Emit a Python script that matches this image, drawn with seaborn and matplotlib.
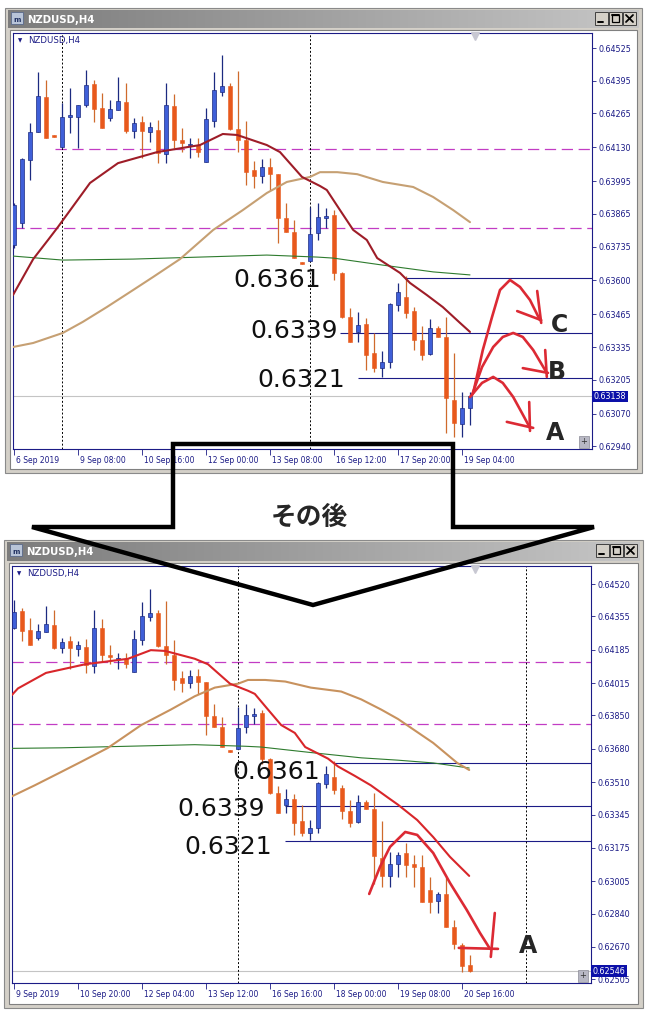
import numpy as np
import matplotlib
matplotlib.use("Agg")
import matplotlib.pyplot as plt
import matplotlib.transforms as mtransforms
from matplotlib.patches import Rectangle, Polygon
from matplotlib.colors import LinearSegmentedColormap
import seaborn as sns

sns.set_style("white")
plt.rcParams['font.family'] = ['DejaVu Sans', 'Noto Sans CJK JP']

# NZDUSD H4 candles, bar 0 = 6 Sep 2019 (upper chart shows 0-57, lower 9-66)
opens = [0.63741, 0.63829, 0.64079, 0.64191, 0.64330, 0.64179, 0.64131, 0.64250, 0.64250, 0.64298,
         0.64382, 0.64286, 0.64246, 0.64278, 0.64310, 0.64195, 0.64230, 0.64191, 0.64199, 0.64103,
         0.64294, 0.64159, 0.64139, 0.64139, 0.64071, 0.64234, 0.64350, 0.64374, 0.64203, 0.64159,
         0.64039, 0.64016, 0.64051, 0.64023, 0.63848, 0.63793, 0.63673, 0.63677, 0.63789, 0.63848,
         0.63860, 0.63630, 0.63454, 0.63395, 0.63426, 0.63311, 0.63251, 0.63275, 0.63502, 0.63534,
         0.63478, 0.63363, 0.63307, 0.63411, 0.63375, 0.63124, 0.63029, 0.63092, 0.63150, 0.63093,
         0.63078, 0.62960, 0.62904, 0.62940, 0.62772, 0.62680, 0.62578]
highs = [0.63908, 0.64087, 0.64226, 0.64429, 0.64398, 0.64179, 0.64306, 0.64366, 0.64298, 0.64437,
         0.64398, 0.64346, 0.64318, 0.64410, 0.64386, 0.64246, 0.64254, 0.64230, 0.64238, 0.64386,
         0.64342, 0.64207, 0.64167, 0.64167, 0.64286, 0.64429, 0.64497, 0.64386, 0.64433, 0.64234,
         0.64075, 0.64083, 0.64087, 0.64023, 0.63908, 0.63840, 0.63673, 0.63892, 0.63908, 0.63888,
         0.63880, 0.63634, 0.63490, 0.63474, 0.63450, 0.63391, 0.63319, 0.63510, 0.63590, 0.63618,
         0.63494, 0.63419, 0.63446, 0.63419, 0.63454, 0.63311, 0.63156, 0.63156, 0.63200, 0.63139,
         0.63139, 0.63027, 0.62950, 0.63027, 0.62807, 0.62690, 0.62629]
lows = [0.63729, 0.63809, 0.64000, 0.64191, 0.64167, 0.64171, 0.64127, 0.64187, 0.64127, 0.64290,
        0.64230, 0.64207, 0.64234, 0.64278, 0.64187, 0.64167, 0.64087, 0.64151, 0.64067, 0.64067,
        0.64127, 0.64111, 0.64087, 0.64091, 0.64071, 0.64211, 0.64334, 0.64199, 0.64111, 0.63980,
        0.63968, 0.63988, 0.63960, 0.63749, 0.63793, 0.63689, 0.63665, 0.63677, 0.63761, 0.63809,
        0.63602, 0.63450, 0.63355, 0.63355, 0.63243, 0.63236, 0.63216, 0.63251, 0.63478, 0.63450,
        0.63323, 0.63283, 0.63303, 0.63375, 0.62993, 0.62977, 0.62977, 0.63025, 0.63027, 0.62976,
        0.62899, 0.62843, 0.62843, 0.62772, 0.62660, 0.62542, 0.62542]
closes = [0.63900, 0.64083, 0.64191, 0.64334, 0.64167, 0.64171, 0.64250, 0.64258, 0.64298, 0.64378,
          0.64282, 0.64207, 0.64282, 0.64314, 0.64195, 0.64226, 0.64195, 0.64211, 0.64107, 0.64298,
          0.64159, 0.64147, 0.64143, 0.64111, 0.64242, 0.64358, 0.64374, 0.64203, 0.64159, 0.64031,
          0.64016, 0.64051, 0.64023, 0.63848, 0.63793, 0.63689, 0.63665, 0.63785, 0.63852, 0.63856,
          0.63630, 0.63454, 0.63355, 0.63423, 0.63303, 0.63251, 0.63275, 0.63506, 0.63554, 0.63470,
          0.63363, 0.63303, 0.63411, 0.63375, 0.63132, 0.63033, 0.63092, 0.63138, 0.63088, 0.63078,
          0.62899, 0.62899, 0.62940, 0.62772, 0.62685, 0.62573, 0.62546]

# moving averages (bar, price)
red_ma_bar = [-0.125, 2.4, 4.25, 5.5, 9.5, 13, 17.9, 23.25, 26.1, 27.9, 31.6, 33.25, 36, 38.25,
              39.1, 40.75, 42.4, 44.1, 45.4, 48.25, 49.5, 51.6, 53.6, 55.75, 57, 59.4, 61.4, 63.5, 65.9]
red_ma = [0.63542, 0.63685, 0.63761, 0.63813, 0.63988, 0.64067, 0.64111, 0.64139, 0.64183, 0.64179,
          0.64139, 0.64111, 0.64012, 0.63976, 0.63960, 0.63880, 0.63801, 0.63761, 0.63689, 0.63630,
          0.63590, 0.63542, 0.63494, 0.63431, 0.63395, 0.63317, 0.63230, 0.63129, 0.63032]
tan_ma_bar = [-0.125, 2.4, 6.1, 8.6, 11.6, 14.9, 17.4, 20.75, 24.9, 28.6, 31.6, 34.1, 37, 38.25,
              40.4, 42.9, 46.1, 49.9, 52.4, 54.9, 57, 61.4, 64.4, 65.9]
tan_ma = [0.63335, 0.63351, 0.63391, 0.63435, 0.63494, 0.63562, 0.63614, 0.63685, 0.63801, 0.63880,
          0.63948, 0.63992, 0.64012, 0.64031, 0.64031, 0.64023, 0.63992, 0.63972, 0.63932, 0.63880,
          0.63832, 0.63710, 0.63608, 0.63572]
green_ma_bar = [-0.125, 6.1, 14.9, 23.25, 31.6, 37.9, 39.9, 46.1, 52.4, 57, 61.4, 65.9]
green_ma = [0.63697, 0.63681, 0.63685, 0.63693, 0.63701, 0.63693, 0.63689, 0.63661, 0.63634,
            0.63622, 0.63608, 0.63582]

# horizontal levels
levels = [0.6361, 0.6339, 0.6321]
level_text = ['0.6361', '0.6339', '0.6321']
top_level_start = [49, 40.75, 43]
bot_level_start = [48.9, 42.9, 42.9]
top_text_bar = [32.9, 35.0, 35.9]
top_text_price = [0.63602, 0.63399, 0.63204]
bot_text_bar = [41.75, 34.9, 35.75]
bot_text_price = [0.63562, 0.63373, 0.63180]
magenta_levels = [0.64125, 0.63808]
top_magenta_start = [5.1, -0.125]

top_price = 0.63138
bot_price = 0.62546
top_last = 57

top_yticks = [0.64525, 0.64395, 0.64265, 0.64130, 0.63995, 0.63865, 0.63735, 0.63600,
              0.63465, 0.63335, 0.63205, 0.63070, 0.62940]
bot_yticks = [0.64520, 0.64355, 0.64185, 0.64015, 0.63850, 0.63680, 0.63510, 0.63345,
              0.63175, 0.63005, 0.62840, 0.62670, 0.62505]
top_time_bars = [0, 8, 16, 24, 32, 40, 48, 56]
top_time_labels = ['6 Sep 2019', '9 Sep 08:00', '10 Sep 16:00', '12 Sep 00:00',
                   '13 Sep 08:00', '16 Sep 12:00', '17 Sep 20:00', '19 Sep 04:00']
bot_time_bars = [9, 17, 25, 33, 41, 49, 57, 65]
bot_time_labels = ['9 Sep 2019', '10 Sep 20:00', '12 Sep 04:00', '13 Sep 12:00',
                   '16 Sep 16:00', '18 Sep 00:00', '19 Sep 08:00', '20 Sep 16:00']
top_vlines = [6, 37]
bot_vlines = [37, 73]

# hand drawn scenario arrows (bar, price)
curve_c_bar = [57.4, 58.6, 59.75, 60.75, 62, 63.25, 64.5, 65.75]
curve_c = [0.63152, 0.63323, 0.63454, 0.63562, 0.63602, 0.63574, 0.63522, 0.63442]
curve_b_bar = [57.25, 58.5, 59.9, 61.1, 62.4, 63.6, 64.9, 66.6]
curve_b = [0.63144, 0.63255, 0.63335, 0.63375, 0.63391, 0.63375, 0.63323, 0.63232]
curve_a_bar = [57, 58.5, 59.9, 61.1, 62.4, 63.5, 64.5]
curve_a = [0.63136, 0.63192, 0.63216, 0.63192, 0.63136, 0.63072, 0.63013]
heads_top = [((65.4, 0.63558), (65.9, 0.63431)), ((62.9, 0.63478), (65.9, 0.63442)),
             ((66.4, 0.63323), (66.6, 0.63216)), ((63.6, 0.63251), (66.75, 0.63232)),
             ((64.4, 0.63116), (64.5, 0.63001)), ((61.6, 0.63037), (64.9, 0.63013))]
abc_text = ['C', 'B', 'A']
abc_bar = [68.25, 67.9, 67.6]
abc_price = [0.63423, 0.63236, 0.62993]

after_bar = [53.4, 54.75, 56, 57.9, 59.4, 61.4, 63.5, 65.6, 67.25, 68.5]
after_curve = [0.62940, 0.63078, 0.63180, 0.63256, 0.63241, 0.63149, 0.62996, 0.62858, 0.62741, 0.62660]
after_marks = [((64.6, 0.62665), (69.5, 0.62660)), ((69.1, 0.62843), (68.6, 0.62619))]
after_a = (73.25, 0.62675)

W, H = 648, 1018
NAVY = '#1b1b86'
BLUE = '#3f5fd8'
BLUE_EDGE = '#1c2a80'
ORANGE = '#e8591c'
ORANGE_WICK = '#cf6a2c'
ARROW_RED = '#dc2a34'

fig = plt.figure(figsize=(W / 100, H / 100), dpi=100)
fig.patch.set_facecolor('white')


def px_rect(l, t, r, b):
    return [l / W, 1 - b / H, (r - l) / W, (b - t) / H]


# window chrome in pixel space
bg = fig.add_axes([0, 0, 1, 1])
bg.set_xlim(0, W)
bg.set_ylim(H, 0)
bg.axis('off')
bg.set_zorder(0)
title_cmap = LinearSegmentedColormap.from_list('tb', ['#7c7c7c', '#c6c6c6'])


def window(l, t, r, b, tb_b):
    bg.add_patch(Rectangle((l, t), r - l, b - t, fc='#d4d0c8', ec='#8a8a8a', lw=0.8))
    bg.imshow(np.linspace(0, 1, 256).reshape(1, -1), cmap=title_cmap, aspect='auto',
              extent=(l + 3, r - 3, tb_b, t + 2), zorder=1)
    bg.add_patch(Rectangle((l + 5, tb_b + 2), r - l - 10, b - tb_b - 6, fc='white',
                           ec='#808080', lw=0.8, zorder=1))
    # icon + title
    bg.add_patch(Rectangle((l + 6, t + 4), 12, 12, fc='#b8c4d8', ec='#5a6a8a', lw=0.6, zorder=2))
    bg.text(l + 8, t + 12, 'm', fontsize=5, color='#203060', weight='bold', va='center', zorder=3)
    bg.text(l + 22, (t + 2 + tb_b) / 2 + 0.5, 'NZDUSD,H4', color='white', weight='bold',
            fontsize=7.3, va='center', zorder=3)
    # buttons
    for k, g in enumerate(['min', 'max', 'close']):
        bx = r - 47 + 14 * k
        by = t + 4
        bg.add_patch(Rectangle((bx, by), 13, 13, fc='#d4d0c8', ec='#404040', lw=0.7, zorder=2))
        if g == 'min':
            bg.plot([bx + 3, bx + 8], [by + 10, by + 10], color='black', lw=1.4, zorder=3)
        elif g == 'max':
            bg.add_patch(Rectangle((bx + 3, by + 3), 7, 7, fc='none', ec='black', lw=0.9, zorder=3))
            bg.plot([bx + 3, bx + 10], [by + 3.4, by + 3.4], color='black', lw=1.4, zorder=3)
        else:
            bg.plot([bx + 3, bx + 10], [by + 3, by + 10], color='black', lw=1.3, zorder=3)
            bg.plot([bx + 3, bx + 10], [by + 10, by + 3], color='black', lw=1.3, zorder=3)


window(5, 8, 642, 473, 28)
window(4, 540, 643, 1008, 561)


def draw_chart(ax, first, last, xlim, ylim, yticks, tbars, tlabels, vlines, level_start,
               tx_bar, tx_price, mag_start, cur_price, red_col, tan_col):
    ax.set_facecolor('white')
    idx = np.arange(first, last + 1)
    o = np.array(opens)[idx]
    h = np.array(highs)[idx]
    lo = np.array(lows)[idx]
    c = np.array(closes)[idx]
    up = c > o
    minh = (ylim[1] - ylim[0]) / 416
    ax.vlines(idx[up], lo[up], h[up], color=BLUE_EDGE, lw=0.9, zorder=3)
    ax.vlines(idx[~up], lo[~up], h[~up], color=ORANGE_WICK, lw=0.9, zorder=3)
    body_lo = np.minimum(o, c)
    body_h = np.maximum(np.abs(c - o), minh)
    ax.bar(idx[up], body_h[up], bottom=body_lo[up], width=0.62, color=BLUE,
           edgecolor=BLUE_EDGE, lw=0.5, zorder=4)
    ax.bar(idx[~up], body_h[~up], bottom=body_lo[~up], width=0.62, color=ORANGE,
           edgecolor=ORANGE, lw=0.4, zorder=4)

    # moving averages
    for bars, vals, col, lw in [(green_ma_bar, green_ma, '#2e7b2e', 0.8),
                                (tan_ma_bar, tan_ma, tan_col, 1.5),
                                (red_ma_bar, red_ma, red_col, 1.5)]:
        bars = np.array(bars)
        vals = np.array(vals)
        keep = bars <= last + 0.01
        sns.lineplot(x=bars[keep], y=vals[keep], ax=ax, color=col, lw=lw, sort=False,
                     estimator=None, legend=False, zorder=5)

    # levels and guide lines
    for lev, st in zip(magenta_levels, mag_start):
        ax.hlines(lev, st, xlim[1], color='#c23cc4', lw=0.9, linestyles=(0, (9, 4.5)), zorder=2)
    for lev, st in zip(levels, level_start):
        ax.hlines(lev, st, xlim[1], color=NAVY, lw=0.8, zorder=2)
    for v in vlines:
        ax.axvline(v, color='black', lw=0.7, ls=(0, (2, 2)), zorder=2)
    ax.axhline(cur_price, color='#c4c4c4', lw=0.8, zorder=1)
    for txt, xb, yp in zip(level_text, tx_bar, tx_price):
        ax.text(xb, yp, txt, fontsize=18, ha='center', va='center', color='#101010', zorder=6)

    ax.set_xlim(*xlim)
    ax.set_ylim(*ylim)
    ax.set_xlabel('')
    ax.set_ylabel('')
    ax.yaxis.tick_right()
    ax.set_yticks(yticks)
    ax.set_yticklabels([f'{t:.5f}' for t in yticks])
    ax.set_xticks(tbars)
    ax.set_xticklabels(tlabels)
    ax.tick_params(axis='y', length=3, width=0.6, color=NAVY, labelcolor=NAVY,
                   labelsize=5.8, pad=1.5, direction='out', right=True, left=False)
    ax.tick_params(axis='x', length=4, width=0.6, color=NAVY, labelcolor=NAVY,
                   labelsize=5.5, pad=1, direction='out', bottom=True)
    off = mtransforms.ScaledTranslation(1.5 / 72, 0, fig.dpi_scale_trans)
    for lab in ax.get_xticklabels():
        lab.set_horizontalalignment('left')
        lab.set_transform(lab.get_transform() + off)
    for sp in ax.spines.values():
        sp.set_visible(True)
        sp.set_color(NAVY)
        sp.set_linewidth(0.8)

    # chart furniture
    ax.text(0.009, 0.981, '\u25bc', transform=ax.transAxes, fontsize=4, color=NAVY, va='center')
    ax.text(0.026, 0.981, 'NZDUSD,H4', transform=ax.transAxes, fontsize=6.2, color=NAVY,
            va='center')
    ax.plot([last + 0.6], [0.992], transform=ax.get_xaxis_transform(), marker='v', ms=6,
            color='#c8c8d2', clip_on=False, zorder=6)
    ax.text(0.986, 0.017, '+', transform=ax.transAxes, fontsize=6, ha='center', va='center',
            color='#303030', bbox=dict(boxstyle='square,pad=0.15', fc='#b8b8c4', ec='#8a8a96',
                                       lw=0.5), zorder=7)
    ax.annotate(f'{cur_price:.5f}', xy=(1, cur_price), xycoords=ax.get_yaxis_transform(),
                xytext=(1.2, 0), textcoords='offset points', ha='left', va='center',
                color='white', fontsize=5.8, annotation_clip=False, zorder=8,
                bbox=dict(boxstyle='square,pad=0.18', fc='#0c10a8', ec='none'))


ax_top = fig.add_axes(px_rect(13, 33, 592, 449))
ax_top.set_zorder(1)
draw_chart(ax_top, 0, top_last, (-0.125, 72.25), (0.62929, 0.64585), top_yticks,
           top_time_bars, top_time_labels, top_vlines, top_level_start, top_text_bar,
           top_text_price, top_magenta_start, top_price, '#9e1d28', '#c6a073')

ax_bot = fig.add_axes(px_rect(12, 566, 591, 983))
ax_bot.set_zorder(1)
draw_chart(ax_bot, 9, len(closes) - 1, (8.75, 81.125), (0.62486, 0.64612), bot_yticks,
           bot_time_bars, bot_time_labels, bot_vlines, bot_level_start, bot_text_bar,
           bot_text_price, [8.75, 8.75], bot_price, '#d8262a', '#c8925e')

# scenario arrows on the upper chart
for xs, ys in [(curve_c_bar, curve_c), (curve_b_bar, curve_b), (curve_a_bar, curve_a)]:
    ax_top.plot(xs, ys, color=ARROW_RED, lw=1.9, solid_capstyle='round', zorder=7)
for (x0, y0), (x1, y1) in heads_top:
    ax_top.plot([x0, x1], [y0, y1], color=ARROW_RED, lw=1.9, solid_capstyle='round', zorder=7)
for t, xb, yp in zip(abc_text, abc_bar, abc_price):
    ax_top.text(xb, yp, t, fontsize=17, weight='bold', ha='center', va='center', zorder=8)

# what happened afterwards on the lower chart
ax_bot.plot(after_bar, after_curve, color=ARROW_RED, lw=1.9, solid_capstyle='round', zorder=7)
for (x0, y0), (x1, y1) in after_marks:
    ax_bot.plot([x0, x1], [y0, y1], color=ARROW_RED, lw=1.9, solid_capstyle='round', zorder=7)
ax_bot.text(after_a[0], after_a[1], 'A', fontsize=17, weight='bold', ha='center', va='center',
            zorder=8)

# big outlined arrow between the two screenshots
ov = fig.add_axes([0, 0, 1, 1])
ov.set_zorder(10)
ov.set_xlim(0, W)
ov.set_ylim(H, 0)
ov.axis('off')
ov.patch.set_alpha(0)
arrow_pts = [(173, 444), (453, 444), (453, 527), (594, 527), (313, 605), (32, 527), (173, 527)]
ov.add_patch(Polygon(arrow_pts, closed=True, fill=False, ec='black', lw=3.2, joinstyle='miter'))
ov.text(309, 517, 'その後', fontsize=18.5, weight='bold', ha='center', va='center',
        family=['Noto Sans CJK JP', 'DejaVu Sans'])

fig.savefig('out.png', dpi=100, facecolor='white')
